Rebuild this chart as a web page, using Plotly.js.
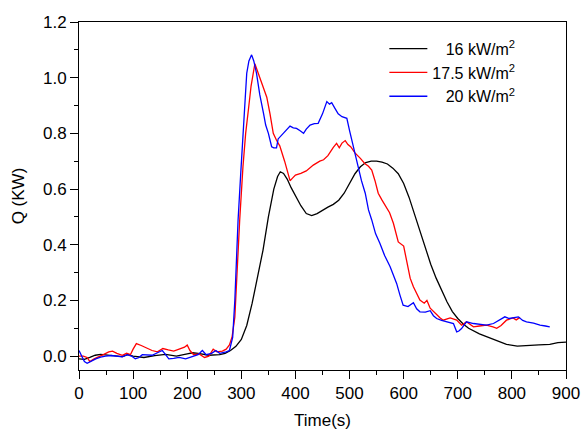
<!DOCTYPE html>
<html>
<head>
<meta charset="utf-8">
<script src="https://cdn.plot.ly/plotly-3.0.1.min.js"></script>
<style>html,body{margin:0;padding:0;background:#fff;}#chart{width:584px;height:430px;}</style>
</head>
<body>
<div id="chart"></div>
<script>
// 16 kW/m2
const t16 = [0,10,20,30,40,50,60,80,90,100,120,140,160,180,200,210,220,240,260,270,280,290,300,310,320,330,340,350,360,367,372,378,385,392,400,410,420,430,440,450,460,470,480,490,500,510,520,530,540,550,560,570,580,590,600,610,620,630,640,650,660,670,680,690,700,710,720,740,760,770,790,810,830,850,870,885,900];
const q16 = [-0.01,-0.012,-0.005,0.003,0.006,0.004,0.0,-0.002,0.005,0.0,-0.005,0.002,0.006,0.0,0.008,0.012,0.01,0.003,0.005,0.01,0.02,0.035,0.06,0.11,0.19,0.28,0.38,0.5,0.6,0.645,0.662,0.656,0.635,0.605,0.575,0.54,0.512,0.505,0.512,0.525,0.535,0.545,0.56,0.585,0.62,0.655,0.68,0.695,0.7,0.7,0.697,0.69,0.675,0.655,0.62,0.57,0.51,0.45,0.39,0.33,0.28,0.235,0.195,0.16,0.135,0.115,0.1,0.08,0.065,0.055,0.042,0.036,0.037,0.04,0.042,0.048,0.05];

// 17.5 kW/m2
const t175 = [0,8,15,20,28,35,45,55,62,70,80,88,95,100,106,115,125,135,145,155,165,175,185,195,200,205,212,222,232,240,248,255,265,272,278,283,288,292,297,303,308,313,318,325,334,340,347,353,359,365,371,380,390,395,400,410,420,433,445,452,460,470,476,481,486,492,497,502,510,520,528,535,541,547,553,560,568,574,581,590,600,606,612,618,625,630,638,643,649,655,661,667,673,686,698,707,716,729,740,753,765,772,780,790,802,808,815];
const q175 = [0.0,0.0,-0.005,-0.02,-0.01,-0.005,0.005,0.015,0.018,0.01,0.003,0.01,0.005,0.025,0.045,0.038,0.03,0.02,0.015,0.027,0.022,0.018,0.025,0.032,0.04,0.02,0.005,0.008,-0.005,0.0,0.025,0.015,0.018,0.025,0.04,0.07,0.14,0.3,0.49,0.68,0.8,0.884,0.97,1.05,1.0,0.97,0.93,0.87,0.8,0.775,0.755,0.7,0.63,0.64,0.65,0.656,0.665,0.686,0.7,0.705,0.72,0.75,0.764,0.748,0.765,0.774,0.76,0.752,0.73,0.71,0.692,0.682,0.668,0.63,0.585,0.56,0.536,0.515,0.477,0.41,0.395,0.33,0.28,0.249,0.22,0.201,0.19,0.2,0.172,0.16,0.147,0.138,0.129,0.137,0.129,0.111,0.123,0.105,0.108,0.111,0.105,0.1,0.11,0.129,0.137,0.13,0.139];

// 20 kW/m2
const t20 = [0,5,10,15,22,31,40,49,60,70,80,89,97,104,110,117,125,135,145,154,160,166,175,185,197,210,220,228,235,245,253,260,265,272,278,284,288,291,294,299,304,307,310,314,319,323,328,334,341,345,350,356,360,365,368,377,384,390,396,402,408,415,420,427,435,442,450,458,463,467,473,479,486,495,500,504,510,516,522,529,535,541,548,556,565,575,587,593,599,608,618,624,630,640,649,655,661,670,679,692,698,702,707,716,729,740,753,766,778,787,795,803,812,820,827,840,852,862,870];
const q20 = [0.02,0.0,-0.02,-0.026,-0.018,-0.01,-0.004,0.0,0.002,0.0,-0.003,0.005,0.0,-0.01,-0.006,0.005,0.003,0.003,0.012,0.02,0.005,-0.01,-0.008,-0.005,-0.01,0.0,0.005,0.02,0.005,0.01,0.02,0.01,0.012,0.015,0.02,0.067,0.2,0.35,0.49,0.66,0.8,0.92,1.016,1.06,1.082,1.06,1.016,0.94,0.872,0.83,0.8,0.752,0.748,0.748,0.78,0.8,0.815,0.826,0.82,0.818,0.81,0.8,0.815,0.83,0.835,0.836,0.87,0.914,0.905,0.91,0.89,0.87,0.86,0.854,0.81,0.776,0.73,0.68,0.63,0.585,0.525,0.489,0.44,0.405,0.36,0.321,0.261,0.22,0.183,0.178,0.192,0.17,0.159,0.158,0.163,0.145,0.135,0.128,0.123,0.117,0.087,0.09,0.099,0.123,0.117,0.115,0.111,0.117,0.129,0.141,0.135,0.137,0.141,0.128,0.123,0.118,0.111,0.108,0.105];

const names = ['\u00a0\u00a0\u00a016 kW/m<sup>2</sup>', '17.5 kW/m<sup>2</sup>', '\u00a0\u00a0\u00a020 kW/m<sup>2</sup>'];
const colors = ['#000000', '#ff0000', '#0000ff'];

const FONT = 'Liberation Sans, Arial, sans-serif';
const traces = [
  {x: t16, y: q16, name: names[0], mode: 'lines', line: {color: colors[0], width: 1.3}},
  {x: t175, y: q175, name: names[1], mode: 'lines', line: {color: colors[1], width: 1.3}},
  {x: t20, y: q20, name: names[2], mode: 'lines', line: {color: colors[2], width: 1.3}}
];

const axisCommon = {
  showgrid: false, zeroline: false, showline: true, linecolor: '#000', linewidth: 1,
  mirror: true, ticks: 'outside', ticklen: 8, tickwidth: 1, tickcolor: '#000',
  tickfont: {family: FONT, size: 17, color: '#000'}
};

const layout = {
  width: 584, height: 430,
  margin: {l: 79, r: 18, t: 22, b: 60},
  paper_bgcolor: '#fff', plot_bgcolor: '#fff',
  font: {family: FONT, size: 17, color: '#000'},
  xaxis: Object.assign({}, axisCommon, {
    range: [0, 900], tickvals: [0,100,200,300,400,500,600,700,800,900],
    minor: {dtick: 50, tick0: 0, ticks: 'outside', ticklen: 4, tickcolor: '#000'},
    title: {text: 'Time(s)', font: {family: FONT, size: 17, color: '#000'}, standoff: 12}
  }),
  yaxis: Object.assign({}, axisCommon, {
    range: [-0.05, 1.2], tickvals: [0,0.2,0.4,0.6,0.8,1.0,1.2], tickformat: '.1f',
    minor: {dtick: 0.1, tick0: 0, ticks: 'outside', ticklen: 4, tickcolor: '#000'},
    title: {text: 'Q (KW)', font: {family: FONT, size: 17, color: '#000'}, standoff: 14}
  }),
  showlegend: true,
  legend: {
    x: 0.627, y: 0.972, xanchor: 'left', yanchor: 'top',
    bgcolor: 'rgba(0,0,0,0)', borderwidth: 0,
    font: {family: FONT, size: 16, color: '#000'},
    itemwidth: 38, tracegroupgap: 0
  }
};

Plotly.newPlot('chart', traces, layout, {displayModeBar: false, staticPlot: true});
</script>
</body>
</html>
